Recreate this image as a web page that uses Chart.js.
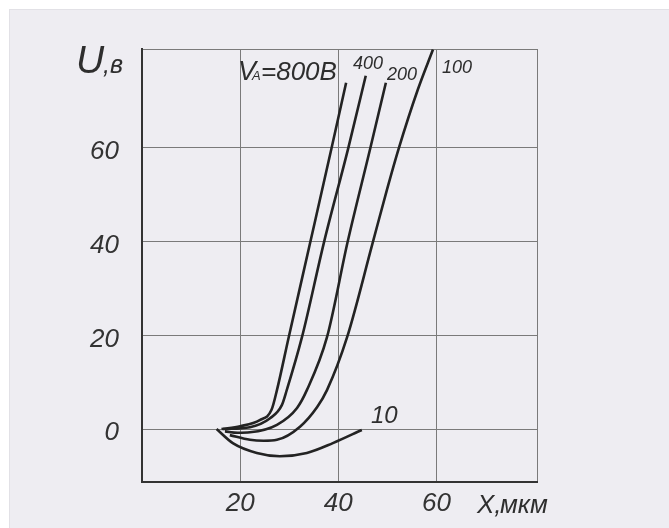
<!DOCTYPE html>
<html>
<head>
<meta charset="utf-8">
<script src="https://cdn.jsdelivr.net/npm/chart.js@4/dist/chart.umd.min.js"></script>
<style>
  html, body { margin: 0; padding: 0; background: #ffffff; }
  #panel { position: absolute; left: 9px; top: 9px; width: 660px; height: 519px; background: #eeedf2; border-left: 1px solid #e2e1e6; border-top: 1px solid #e2e1e6; }
  #wrap { position: absolute; left: 0; top: 0; width: 669px; height: 528px; }
</style>
</head>
<body>
<div id="panel"></div>
<div id="wrap"><canvas id="c" width="669" height="528"></canvas></div>
<script>
// ---- data (X in мкм, U in В) ----
const xTickValues = [20, 40, 60];
const yTickValues = [0, 20, 40, 60];

const x800 = [16.2, 20.0, 24.0, 26.4, 27.5, 29.9, 34.3, 38.6, 41.6];
const y800 = [0.0, 0.6, 1.9, 4.1, 8.3, 19.6, 39.9, 59.8, 73.9];

const x400 = [16.5, 22.0, 26.1, 28.5, 29.5, 32.6, 37.1, 42.0, 45.6];
const y400 = [0.0, 0.4, 2.3, 5.1, 8.3, 19.6, 39.9, 59.8, 75.4];

const x200 = [16.9, 19.5, 22.0, 27.5, 31.6, 33.6, 37.7, 41.9, 46.5, 49.7];
const y200 = [-0.5, -0.8, -0.7, 0.9, 4.5, 8.3, 19.6, 39.9, 59.8, 73.9];

const x100 = [17.9, 22.0, 24.8, 27.5, 32.2, 35.7, 37.7, 41.8, 46.9, 49.9, 52.3, 56.2, 59.3];
const y100 = [-1.3, -2.3, -2.5, -2.3, 0.5, 4.7, 8.3, 19.6, 39.3, 51.0, 59.8, 72.4, 81.0];

const x10 = [15.2, 18.5, 23.4, 28.1, 33.6, 38.9, 44.8];
const y10 = [0.0, -3.0, -5.1, -5.8, -5.1, -3.0, -0.2];

const seriesNames = ['800', '400', '200', '100', '10'];

function pts(xs, ys) { return xs.map((x, i) => ({ x: x, y: ys[i] })); }

const FONT = "'Liberation Sans', Arial, sans-serif";
const LINE = '#232323';

function ds(label, xs, ys) {
  return {
    label: label, data: pts(xs, ys), borderColor: LINE, borderWidth: 2.6,
    pointRadius: 0, fill: false, cubicInterpolationMode: 'monotone'
  };
}

const labelsPlugin = {
  id: 'labelsPlugin',
  afterDraw(chart) {
    const ctx = chart.ctx;
    ctx.save();
    ctx.fillStyle = '#2e2e2e';
    ctx.textBaseline = 'alphabetic';
    ctx.textAlign = 'left';
    // Y axis title
    ctx.font = 'italic 39px ' + FONT;
    ctx.fillText('U', 76, 73);
    ctx.font = 'italic 25px ' + FONT;
    ctx.fillText(',в', 103, 73);
    // X axis title
    ctx.font = 'italic 26px ' + FONT;
    ctx.fillText('X,', 477, 513);
    ctx.fillText('мкм', 500, 513);
    // series annotations
    ctx.font = 'italic 27px ' + FONT;
    ctx.fillText('V', 238, 80);
    ctx.font = 'italic 13px ' + FONT;
    ctx.fillText('A', 252, 80);
    ctx.font = 'italic 26px ' + FONT;
    ctx.fillText('=800В', 261, 80);
    ctx.font = 'italic 18px ' + FONT;
    ctx.fillText('400', 353, 69);
    ctx.fillText('200', 387, 80);
    ctx.fillText('100', 442, 73);
    ctx.font = 'italic 24px ' + FONT;
    ctx.fillText('10', 371, 423);
    ctx.restore();
  }
};

new Chart(document.getElementById('c'), {
  type: 'line',
  data: {
    datasets: [
      ds(seriesNames[0], x800, y800),
      ds(seriesNames[1], x400, y400),
      ds(seriesNames[2], x200, y200),
      ds(seriesNames[3], x100, y100),
      ds(seriesNames[4], x10, y10)
    ]
  },
  options: {
    responsive: false,
    animation: false,
    layout: { padding: { left: 0, top: 49, right: 132, bottom: 0 } },
    plugins: { legend: { display: false }, tooltip: { enabled: false } },
    scales: {
      x: {
        type: 'linear', min: 0, max: 80.5,
        afterFit: s => { s.height = 46; },
        afterBuildTicks: s => { s.ticks = [0].concat(xTickValues, [80.5]).map(v => ({ value: v })); },
        grid: { color: '#7a7a7a', lineWidth: 1, drawTicks: false },
        border: { color: '#333333', width: 2 },
        ticks: {
          padding: 6, color: '#333333',
          font: { family: FONT, size: 26, style: 'italic' },
          callback: v => (xTickValues.includes(v) ? String(v) : '')
        }
      },
      y: {
        type: 'linear', min: -11.3, max: 81.1,
        afterFit: s => { s.width = 142; },
        afterBuildTicks: s => { s.ticks = [-11.3].concat(yTickValues, [81.1]).map(v => ({ value: v })); },
        grid: { color: '#7a7a7a', lineWidth: 1, drawTicks: false },
        border: { color: '#333333', width: 2 },
        ticks: {
          padding: 23, color: '#333333', labelOffset: 4,
          font: { family: FONT, size: 26, style: 'italic' },
          callback: v => (yTickValues.includes(v) ? String(v) : '')
        }
      }
    }
  },
  plugins: [labelsPlugin]
});
</script>
</body>
</html>
